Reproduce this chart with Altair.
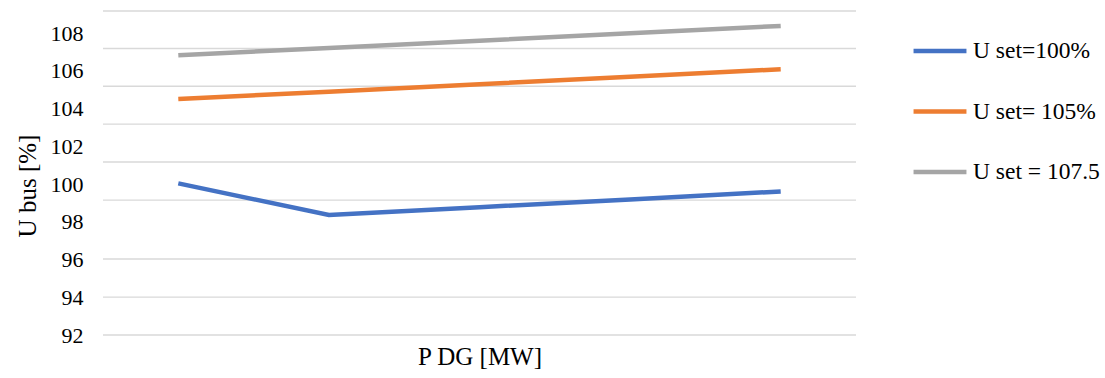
import altair as alt
import pandas as pd

categories = ["1", "2", "3", "4", "5"]
series_names = ["U set=100%", "U set= 105%", "U set = 107.5"]
u_100 = [100.04, 98.36, 98.78, 99.19, 99.61]
u_105 = [104.52, 104.9, 105.3, 105.7, 106.09]
u_1075 = [106.83, 107.22, 107.6, 108.0, 108.39]
y_tick_values = [92, 94, 96, 98, 100, 102, 104, 106, 108]
grid_values = [92, 94.01, 96.03, 99.15, 101.17, 103.18, 105.19, 107.19, 109.18]
colors = ["#4472C4", "#ED7D31", "#A5A5A5"]

rows = []
for name, vals in zip(series_names, [u_100, u_105, u_1075]):
    for c, v in zip(categories, vals):
        rows.append({"cat": c, "series": name, "value": v})
df = pd.DataFrame(rows)
grid_df = pd.DataFrame({"g": grid_values})

FONT = "Liberation Serif, Times New Roman, serif"
y_scale = alt.Scale(domain=[92, 109.18], nice=False, zero=False)


def y_axis():
    return alt.Axis(values=y_tick_values, grid=False, domain=False, ticks=False,
                    labelPadding=20, labelFont=FONT, labelFontSize=22,
                    labelColor="#000000", title="U bus [%]", titleFont=FONT,
                    titleFontSize=25, titleFontWeight="normal",
                    titleColor="#000000", titleAngle=270,
                    titleBaseline="middle", titleAlign="center",
                    titleX=-75.5, titleY=174.5)


grid = alt.Chart(grid_df).mark_rule(color="#d9d9d9", strokeWidth=1.4).encode(
    y=alt.Y("g:Q", scale=y_scale, axis=y_axis(), title="U bus [%]")
)

lines = alt.Chart(df).mark_line(strokeWidth=4.5, strokeCap="butt").encode(
    x=alt.X("cat:O", sort=categories,
            scale=alt.Scale(type="point", padding=0.5),
            axis=alt.Axis(labels=False, ticks=False, domain=False, grid=False,
                          title="P DG [MW]", titleFont=FONT, titleFontSize=25,
                          titleFontWeight="normal", titleColor="#000000",
                          titleBaseline="middle", titleY=21)),
    y=alt.Y("value:Q", scale=y_scale, axis=y_axis(), title="U bus [%]"),
    color=alt.Color("series:N", sort=series_names,
                    scale=alt.Scale(domain=series_names, range=colors),
                    legend=alt.Legend(title=None, orient="none", legendX=808, legendY=11,
                                      symbolType="stroke", symbolSize=2800,
                                      symbolStrokeWidth=4.5, labelFont=FONT,
                                      labelFontSize=23.5, labelColor="#000000",
                                      labelOffset=4, rowPadding=19.5)),
    order=alt.Order("cat:O"),
)

chart = alt.layer(grid, lines).properties(
    width=753, height=324,
    autosize=alt.AutoSizeParams(type="none"),
    padding={"left": 103, "top": 11, "right": 249, "bottom": 43},
).configure(background="#ffffff", font=FONT).configure_axis(
    labelFont=FONT, titleFont=FONT
).configure_legend(labelFont=FONT).configure_view(stroke=None)

chart.save("out.html", embed_options={"renderer": "svg", "actions": False})
